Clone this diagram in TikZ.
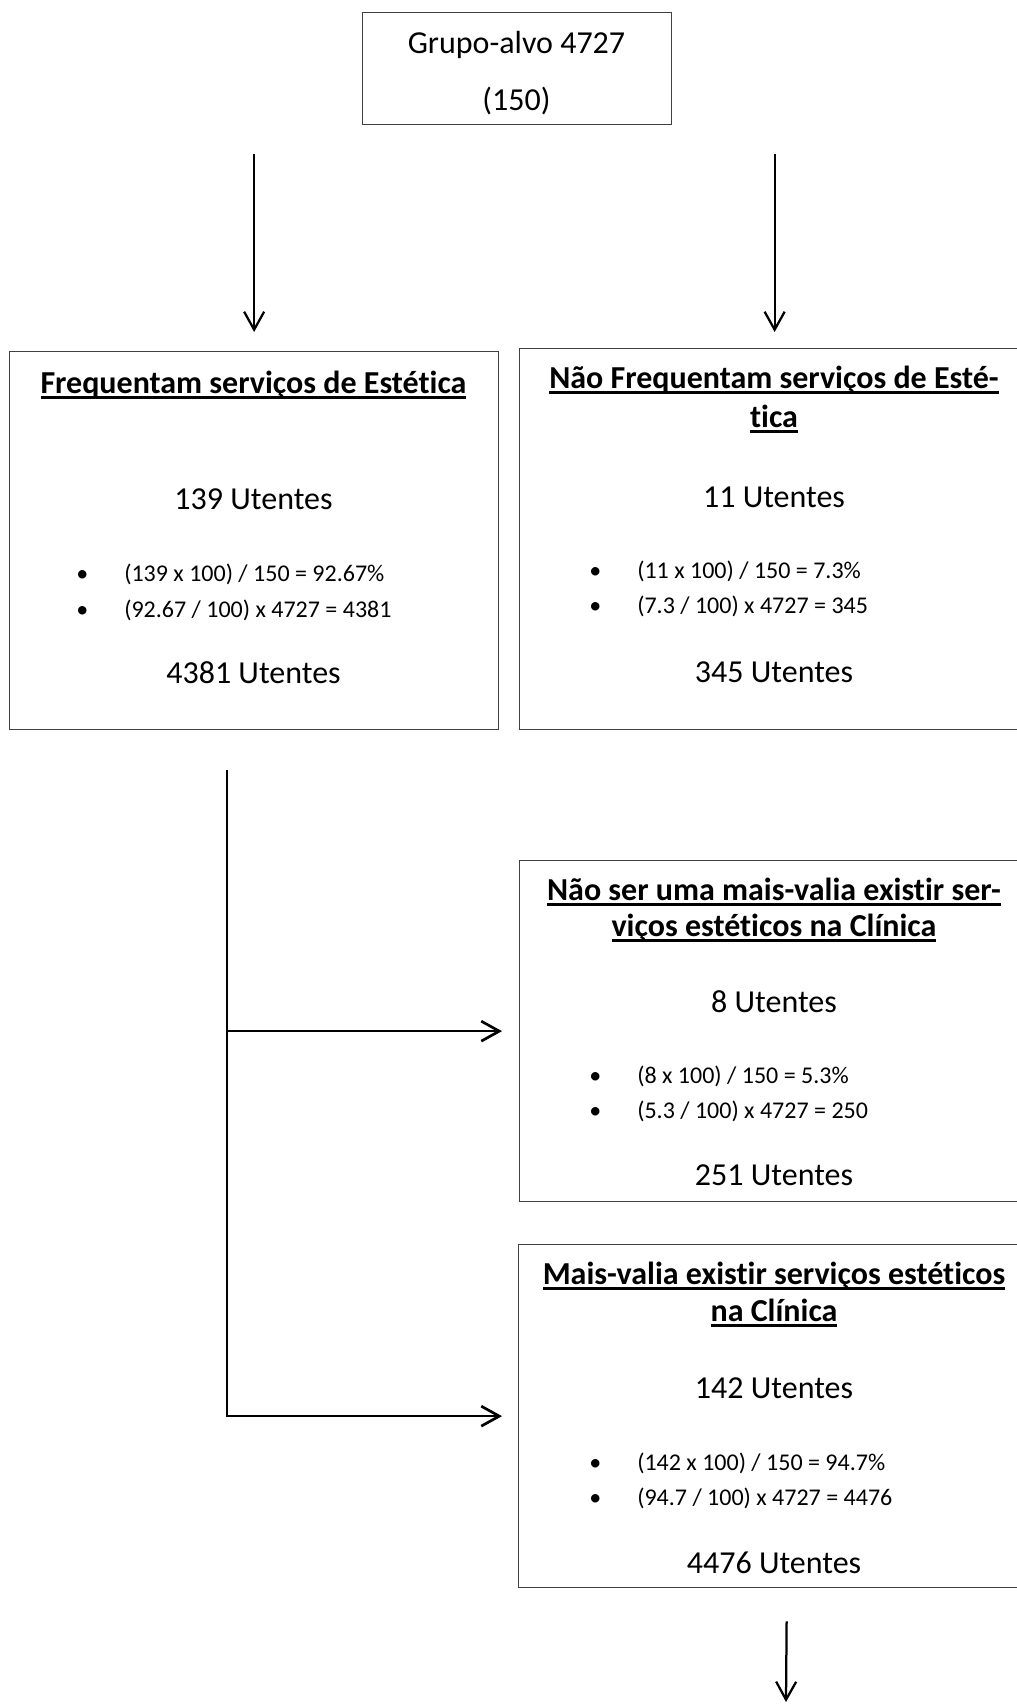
\documentclass[tikz,border=0pt]{standalone}
\usepackage{fontspec}
\setmainfont{Carlito}[Ligatures={NoCommon,NoContextual}]
\usepackage{tikz}
\usetikzlibrary{positioning, calc, arrows.meta}

\newlength{\sublw}
\newcommand{\sublinhado}[1]{\settowidth{\sublw}{#1}\rlap{\rule[-0.15cm]{\sublw}{0.065cm}}#1}

\begin{document}
\begin{tikzpicture}[
    caixa/.style={rectangle, draw=black!75, line width=0.9pt, anchor=north west},
    titulo/.style={anchor=base, inner sep=0pt, font=\fontsize{22.76}{27}\selectfont\bfseries},
    texto/.style={anchor=base, inner sep=0pt, font=\fontsize{22.76}{27}\selectfont},
    item/.style={anchor=base west, inner sep=0pt, font=\fontsize{17.07}{20}\selectfont},
    seta/.style={-{Straight Barb[length=0.45cm, width=0.5cm]}, line width=1.6pt}
]
\useasboundingbox (0,0) rectangle (25.425,-42.625);
\clip (0,0) rectangle (25.425,-42.625);

% Grupo-alvo
\node[caixa, minimum width=7.725cm, minimum height=2.8cm] (grupo) at (9.05,-0.3) {};
\node[texto] (grupo-a) at (12.9125,-1.325) {Grupo-alvo 4727};
\node[texto] (grupo-b) at (12.9125,-2.75) {(150)};

% Frequentam
\node[caixa, minimum width=12.225cm, minimum height=9.45cm] (fre) at (0.225,-8.775) {};
\node[titulo] (fre-tit) at (6.3375,-9.825) {\sublinhado{Frequentam serviços de Estética}};
\node[texto] (fre-n) at (6.3375,-12.725) {139 Utentes};
\node[item] (fre-i1) at (1.90,-14.525) {\makebox[1.2cm][l]{\textbullet}(139 x 100) / 150 = 92.67\%};
\node[item] (fre-i2) at (1.90,-15.425) {\makebox[1.2cm][l]{\textbullet}(92.67 / 100) x 4727 = 4381};
\node[texto] (fre-tot) at (6.3375,-17.075) {4381 Utentes};

% Nao frequentam
\node[caixa, minimum width=12.75cm, minimum height=9.525cm] (naofre) at (12.975,-8.7) {};
\node[titulo] (naofre-tit1) at (19.35,-9.70) {\sublinhado{Não Frequentam serviços de Esté-}};
\node[titulo] (naofre-tit2) at (19.35,-10.675) {\sublinhado{tica}};
\node[texto] (naofre-n) at (19.35,-12.675) {11 Utentes};
\node[item] (naofre-i1) at (14.725,-14.45) {\makebox[1.2cm][l]{\textbullet}(11 x 100) / 150 = 7.3\%};
\node[item] (naofre-i2) at (14.725,-15.325) {\makebox[1.2cm][l]{\textbullet}(7.3 / 100) x 4727 = 345};
\node[texto] (naofre-tot) at (19.35,-17.05) {345 Utentes};

% Nao ser mais-valia
\node[caixa, minimum width=12.75cm, minimum height=8.525cm] (semvalor) at (12.975,-21.5) {};
\node[titulo] (semvalor-tit1) at (19.35,-22.5) {\sublinhado{Não ser uma mais-valia existir ser-}};
\node[titulo] (semvalor-tit2) at (19.35,-23.4) {\sublinhado{viços estéticos na Clínica}};
\node[texto] (semvalor-n) at (19.35,-25.30) {8 Utentes};
\node[item] (semvalor-i1) at (14.725,-27.075) {\makebox[1.2cm][l]{\textbullet}(8 x 100) / 150 = 5.3\%};
\node[item] (semvalor-i2) at (14.725,-27.95) {\makebox[1.2cm][l]{\textbullet}(5.3 / 100) x 4727 = 250};
\node[texto] (semvalor-tot) at (19.35,-29.625) {251 Utentes};

% Mais-valia
\node[caixa, minimum width=12.775cm, minimum height=8.575cm] (valor) at (12.95,-31.1) {};
\node[titulo] (valor-tit1) at (19.35,-32.1) {\sublinhado{Mais-valia existir serviços estéticos}};
\node[titulo] (valor-tit2) at (19.35,-33.025) {\sublinhado{na Clínica}};
\node[texto] (valor-n) at (19.35,-34.95) {142 Utentes};
\node[item] (valor-i1) at (14.725,-36.75) {\makebox[1.2cm][l]{\textbullet}(142 x 100) / 150 = 94.7\%};
\node[item] (valor-i2) at (14.725,-37.625) {\makebox[1.2cm][l]{\textbullet}(94.7 / 100) x 4727 = 4476};
\node[texto] (valor-tot) at (19.35,-39.325) {4476 Utentes};

% Setas
\draw[seta] ($(grupo.south -| fre.north)+(0,-0.725)$) -- ($(fre.north)+(0,0.475)$);
\draw[seta] ($(grupo.south -| naofre.north)+(0,-0.725)$) -- ($(naofre.north)+(0,0.4)$);

\coordinate (ramo) at (5.675,-19.25);
\draw[seta, line width=1.9pt] (ramo) -- (ramo |- valor.west) -- ($(valor.west)+(-0.4,0)$);
\draw[seta, line width=1.9pt] (ramo |- semvalor.west) -- ($(semvalor.west)+(-0.425,0)$);

\coordinate (fim) at (19.65,-42.55);
\draw[seta] ($(valor.south)+(0.3125,-0.825)$) -- (fim);

\end{tikzpicture}
\end{document}
